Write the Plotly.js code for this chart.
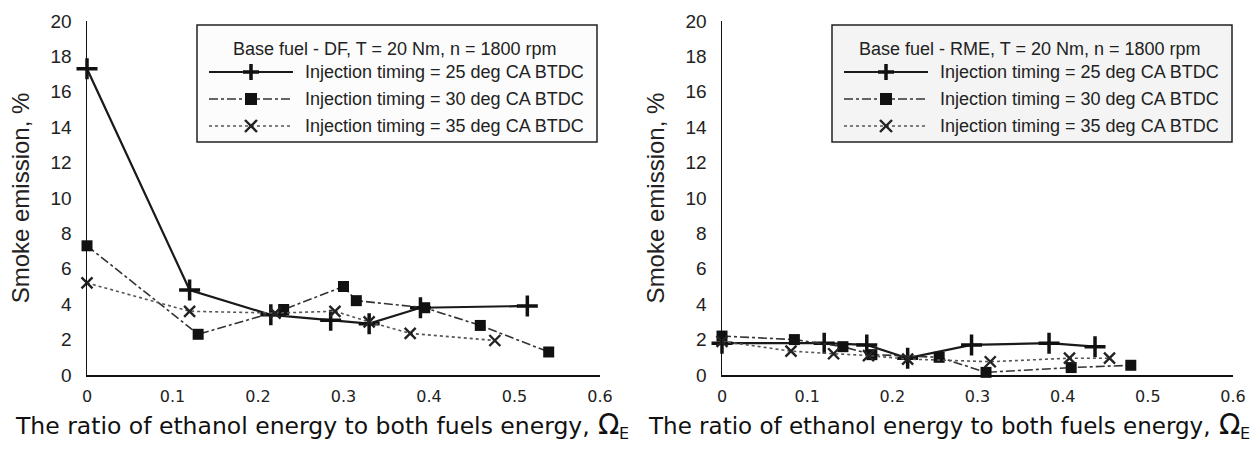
<!DOCTYPE html>
<html>
<head>
<meta charset="utf-8">
<script src="https://cdn.plot.ly/plotly-3.0.1.min.js"></script>
<style>
  html, body { margin: 0; padding: 0; background: #ffffff; }
  #chart { width: 1253px; height: 452px; }
</style>
</head>
<body>
<div id="chart"></div>
<script>
// ---------- data ----------
const seriesNames = [
  "Injection timing = 25 deg CA BTDC",
  "Injection timing = 30 deg CA BTDC",
  "Injection timing = 35 deg CA BTDC"
];
const leftLegendTitle = "Base fuel - DF, T = 20 Nm, n = 1800 rpm";
const rightLegendTitle = "Base fuel - RME, T = 20 Nm, n = 1800 rpm";

// Left panel: base fuel DF
const dfX25 = [0, 0.12, 0.215, 0.285, 0.33, 0.39, 0.515];
const dfY25 = [17.3, 4.8, 3.4, 3.1, 2.9, 3.8, 3.9];
const dfX30 = [0, 0.13, 0.23, 0.30, 0.315, 0.395, 0.46, 0.54];
const dfY30 = [7.3, 2.3, 3.7, 5.0, 4.2, 3.8, 2.8, 1.3];
const dfX35 = [0, 0.12, 0.22, 0.29, 0.33, 0.378, 0.477];
const dfY35 = [5.2, 3.6, 3.5, 3.6, 3.0, 2.35, 1.95];

// Right panel: base fuel RME
const rmeX25 = [0, 0.12, 0.17, 0.218, 0.293, 0.384, 0.438];
const rmeY25 = [1.8, 1.8, 1.7, 0.95, 1.7, 1.8, 1.6];
const rmeX30 = [0, 0.085, 0.142, 0.176, 0.255, 0.31, 0.41, 0.48];
const rmeY30 = [2.2, 2.0, 1.6, 1.15, 1.0, 0.15, 0.42, 0.55];
const rmeX35 = [0, 0.081, 0.131, 0.172, 0.218, 0.315, 0.408, 0.455];
const rmeY35 = [1.9, 1.35, 1.2, 1.1, 0.9, 0.75, 0.95, 0.95];

// ticks
const xTickVals = [0, 0.1, 0.2, 0.3, 0.4, 0.5, 0.6];
const xTickText = ["0", "0.1", "0.2", "0.3", "0.4", "0.5", "0.6"];
const yTickVals = [0, 2, 4, 6, 8, 10, 12, 14, 16, 18, 20];
const yTickText = ["0", "2", "4", "6", "8", "10", "12", "14", "16", "18", "20"];

const xTitleMain = "The ratio of ethanol energy to both fuels energy,";
const xTitleSymbol = "\u03A9";
const xTitleSub = "E";
const yTitle = "Smoke emission, %";

// ---------- styles ----------
const W = 1253, H = 452;
const styles = [
  { line: { color: "#1a1a1a", width: 2.2, dash: "solid" },
    marker: { symbol: "cross-thin-open", size: 15, color: "#111", line: { width: 3.5, color: "#111" } } },
  { line: { color: "#333", width: 1.6, dash: "dashdot" },
    marker: { symbol: "square", size: 11, color: "#111" } },
  { line: { color: "#555", width: 1.6, dash: "dot" },
    marker: { symbol: "x-thin-open", size: 11, color: "#222", line: { width: 2.4, color: "#222" } } }
];

function mk(x, y, i, xa, ya) {
  return {
    x: x, y: y, xaxis: xa, yaxis: ya, type: "scatter", mode: "lines+markers",
    name: seriesNames[i], showlegend: false, cliponaxis: false,
    line: styles[i].line, marker: styles[i].marker
  };
}

const traces = [
  mk(dfX25, dfY25, 0, "x", "y"),
  mk(dfX30, dfY30, 1, "x", "y"),
  mk(dfX35, dfY35, 2, "x", "y"),
  mk(rmeX25, rmeY25, 0, "x2", "y2"),
  mk(rmeX30, rmeY30, 1, "x2", "y2"),
  mk(rmeX35, rmeY35, 2, "x2", "y2")
];

// pixel -> paper helpers (margins are zero)
const px = v => v / W;
const py = v => 1 - v / H;

// ---------- manual legends ----------
const shapes = [];
const annotations = [];
const legendFont = { family: "Liberation Sans, Arial, sans-serif", size: 18, color: "#222" };

function buildLegend(x0, title, fill) {
  const top = 25, bottom = 142, width = 400;
  shapes.push({ type: "rect", xref: "paper", yref: "paper",
    x0: px(x0), x1: px(x0 + width), y0: py(bottom), y1: py(top),
    line: { color: "#222", width: 1.5 }, fillcolor: fill });
  annotations.push({ xref: "paper", yref: "paper", x: px(x0 + width / 2 - 2), y: py(49),
    xanchor: "center", yanchor: "middle", showarrow: false, text: title, font: legendFont });
  for (let i = 0; i < 3; i++) {
    const yy = 72 + 27 * i;
    shapes.push({ type: "line", xref: "paper", yref: "paper",
      x0: px(x0 + 12), x1: px(x0 + 96), y0: py(yy), y1: py(yy),
      line: { color: styles[i].line.color, width: styles[i].line.width, dash: styles[i].line.dash } });
    const mx = x0 + 54;
    if (i === 0) {
      shapes.push({ type: "line", xref: "paper", yref: "paper", x0: px(mx - 8), x1: px(mx + 8), y0: py(yy), y1: py(yy), line: { color: "#111", width: 3.5 } });
      shapes.push({ type: "line", xref: "paper", yref: "paper", x0: px(mx), x1: px(mx), y0: py(yy - 8), y1: py(yy + 8), line: { color: "#111", width: 3.5 } });
    } else if (i === 1) {
      shapes.push({ type: "rect", xref: "paper", yref: "paper", x0: px(mx - 6), x1: px(mx + 6), y0: py(yy + 6), y1: py(yy - 6), line: { width: 0 }, fillcolor: "#111" });
    } else {
      shapes.push({ type: "line", xref: "paper", yref: "paper", x0: px(mx - 6), x1: px(mx + 6), y0: py(yy - 6), y1: py(yy + 6), line: { color: "#222", width: 2.4 } });
      shapes.push({ type: "line", xref: "paper", yref: "paper", x0: px(mx - 6), x1: px(mx + 6), y0: py(yy + 6), y1: py(yy - 6), line: { color: "#222", width: 2.4 } });
    }
    annotations.push({ xref: "paper", yref: "paper", x: px(x0 + 106), y: py(yy),
      xanchor: "left", yanchor: "middle", showarrow: false, text: seriesNames[i], font: legendFont });
  }
}
buildLegend(197, leftLegendTitle, "#fcfcfc");
buildLegend(832, rightLegendTitle, "#f4f4f4");

// x-axis titles as annotations (they sit left of the axis centre in the reference)
const titleFamily = "DejaVu Sans, Verdana, sans-serif";
function addXTitle(xEnd, size) {
  annotations.push({ xref: "paper", yref: "paper", x: px(xEnd), y: py(426),
    xanchor: "right", yanchor: "middle", showarrow: false, text: xTitleMain,
    font: { family: titleFamily, size: size, color: "#111" } });
  annotations.push({ xref: "paper", yref: "paper", x: px(xEnd + 4), y: py(424),
    xanchor: "left", yanchor: "middle", showarrow: false, text: xTitleSymbol,
    font: { family: titleFamily, size: 28, color: "#111" } });
  annotations.push({ xref: "paper", yref: "paper", x: px(xEnd + 25), y: py(433),
    xanchor: "left", yanchor: "middle", showarrow: false, text: xTitleSub,
    font: { family: titleFamily, size: 16, color: "#111" } });
}
addXTitle(592, 23.5);
addXTitle(1213, 23);

// ---------- axes ----------
const yDomain = [(H - 375) / H, (H - 21) / H];
function xAxis(d0, d1, anchor) {
  return {
    domain: [px(d0), px(d1)], anchor: anchor, range: [0, 0.6],
    tickmode: "array", tickvals: xTickVals, ticktext: xTickText,
    showline: true, linecolor: "#111", linewidth: 2, ticks: "",
    showgrid: false, zeroline: false, ticklabelstandoff: 6,
    tickfont: { family: "DejaVu Sans, Verdana, sans-serif", size: 16, color: "#222" },
    fixedrange: true
  };
}
function yAxis(anchor) {
  return {
    domain: yDomain, anchor: anchor, range: [0, 20],
    tickmode: "array", tickvals: yTickVals, ticktext: yTickText,
    showline: true, linecolor: "#111", linewidth: 1.5, ticks: "",
    showgrid: false, zeroline: false, ticklabelstandoff: 10,
    tickfont: { family: "Liberation Sans, Arial, sans-serif", size: 19, color: "#222" },
    title: { text: yTitle, standoff: 14,
      font: { family: "Liberation Sans, Arial, sans-serif", size: 24, color: "#222" } },
    automargin: false,
    fixedrange: true
  };
}

const layout = {
  width: W, height: H,
  margin: { l: 0, r: 0, t: 0, b: 0 },
  paper_bgcolor: "#ffffff", plot_bgcolor: "rgba(0,0,0,0)",
  showlegend: false,
  xaxis: xAxis(87, 600, "y"),
  yaxis: yAxis("x"),
  xaxis2: xAxis(722, 1233, "y2"),
  yaxis2: yAxis("x2"),
  shapes: shapes,
  annotations: annotations
};

Plotly.newPlot("chart", traces, layout, { displayModeBar: false, staticPlot: true });
</script>
</body>
</html>
